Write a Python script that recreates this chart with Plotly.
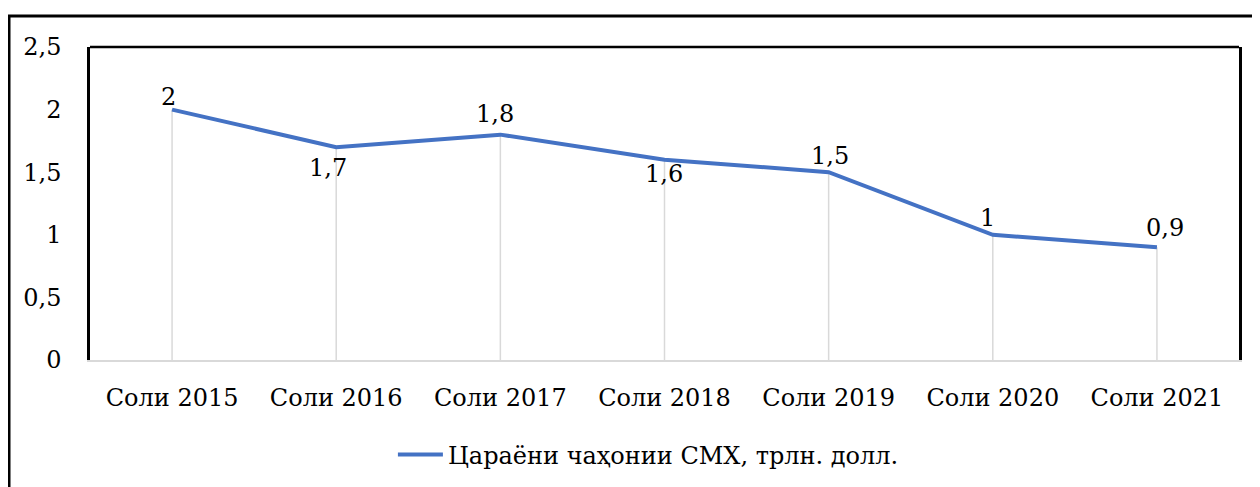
import plotly.graph_objects as go

categories = ["Соли 2015", "Соли 2016", "Соли 2017", "Соли 2018", "Соли 2019", "Соли 2020", "Соли 2021"]
values = [2.0, 1.7, 1.8, 1.6, 1.5, 1.0, 0.9]
series_name = "Цараёни чаҳонии СМХ, трлн. долл."
y_ticks = [0, 0.5, 1, 1.5, 2, 2.5]

# label offsets (style): (xshift, yshift) in px
label_offsets = [(-4, 13), (-8, -21), (-5, 21), (-1, -14), (1, 16), (-5, 17), (8, 19)]

FONT = "DejaVu Serif"
FS = 24
BLUE = "#4472C4"

def fmt(v):
    s = f"{v:g}"
    return s.replace(".", ",")

# plot area in figure px (page is offset by 8px body margin)
L, T, PW, PH = 82, 39, 1149, 313

fig = go.Figure()
# drop lines
fig.add_trace(go.Scatter(
    x=categories, y=values, mode="markers",
    marker=dict(size=0.1, color="rgba(0,0,0,0)"),
    error_y=dict(type="data", symmetric=False, array=[0]*len(values), arrayminus=values,
                 color="#D9D9D9", thickness=1.5, width=0),
    showlegend=False, hoverinfo="skip"))
fig.add_trace(go.Scatter(
    x=categories, y=values, mode="lines", name=series_name,
    line=dict(color=BLUE, width=4)))

for c, v, (dx, dy) in zip(categories, values, label_offsets):
    fig.add_annotation(x=c, y=v, text=fmt(v), showarrow=False, xshift=dx, yshift=dy,
                       font=dict(family=FONT, size=FS, color="#000000"))

shapes = [
    # outer frame
    dict(type="rect", xref="paper", yref="paper", x0=(1-L)/PW, x1=1.2, y0=-0.6, y1=(T+PH-8)/PH,
         line=dict(color="#000000", width=3), fillcolor="rgba(0,0,0,0)", layer="above"),
    # inner box top
    dict(type="line", xref="paper", yref="paper", x0=0, x1=1, y0=1, y1=1,
         line=dict(color="#000000", width=2.5)),
]

fig.update_layout(
    width=1260, height=487,
    margin=dict(l=L, r=1260-L-PW, t=T, b=487-T-PH),
    paper_bgcolor="white", plot_bgcolor="white",
    font=dict(family=FONT, size=FS, color="#000000"),
    shapes=shapes,
    showlegend=True,
    legend=dict(orientation="h", x=0.486, xanchor="center", y=-0.303, yanchor="middle",
                itemwidth=45,
                font=dict(family=FONT, size=FS, color="#000000")),
    xaxis=dict(type="category", range=[-0.5, 6.5], showgrid=False, showline=True,
               linecolor="#D9D9D9", linewidth=2, ticks="", ticklabelstandoff=15,
               tickfont=dict(family=FONT, size=FS, color="#000000"), zeroline=False),
    yaxis=dict(range=[0, 2.5], tickvals=y_ticks, ticktext=[fmt(t) for t in y_ticks],
               showgrid=False, showline=True, mirror=True, linecolor="#000000", linewidth=2.5,
               ticks="", ticklabelstandoff=21, zeroline=False,
               tickfont=dict(family=FONT, size=FS, color="#000000")),
)

fig.write_html("out.html")
